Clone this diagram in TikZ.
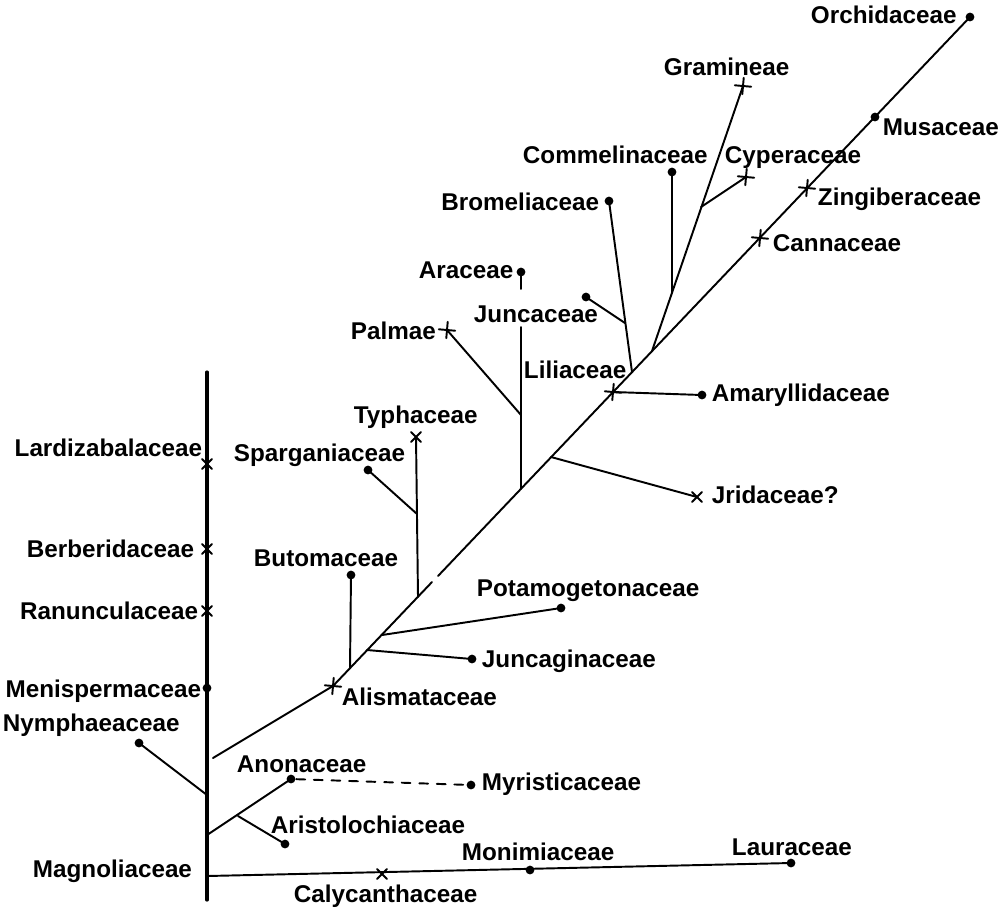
\documentclass[tikz,border=0pt]{standalone}
\usepackage{fontspec}
\setmainfont{Liberation Sans}
\usetikzlibrary{shapes.misc}
\begin{document}
\begin{tikzpicture}[x=0.02cm,y=-0.02cm, line width=1.1pt, line cap=round,
  lab/.style={font=\fontsize{13.8}{16}\selectfont\bfseries, inner sep=0pt},
  dotm/.style={circle,fill,inner sep=0pt,minimum size=5pt},
  xm/.style={cross out,draw,inner sep=0pt,minimum size=4.5pt,line width=1.1pt},
  pm/.style={cross out,draw,inner sep=0pt,minimum size=5.5pt,line width=1.1pt,rotate=40},
  axisl/.style={line width=1.8pt},
  dashl/.style={dash pattern=on 5pt off 5pt}]
\fill[white] (0,0) rectangle (1000,914);
\path[use as bounding box] (0,0) rectangle (1000,914);

% ---------- vertical axis ----------
\coordinate (axT) at (207,372);
\coordinate (axB) at (207,900);
\draw[axisl] (axT) -- (axB);
\node[xm] (lardM) at (207,464) {};
\node[xm] (berbM) at (207,549) {};
\node[xm] (ranuM) at (207,611) {};
\node[dotm] (meniM) at (207,688) {};
\node[lab,anchor=base east] (lardL) at (203,456) {Lardizabalaceae};
\node[lab,anchor=base east] (berbL) at (195,557) {Berberidaceae};
\node[lab,anchor=base east] (ranuL) at (199,619) {Ranunculaceae};
\node[lab,anchor=base east] (meniL) at (202,697) {Menispermaceae};

% Nymphaeaceae
\coordinate (nympJ) at (207,795);
\node[dotm] (nympM) at (139,743) {};
\draw (nympJ) -- (nympM.center);
\node[lab,anchor=base west] (nympL) at (2,731) {Nymphaeaceae};

% Anonaceae / Aristolochiaceae / Myristicaceae
\coordinate (anonJ) at (207,835);
\node[dotm] (anonM) at (291,779) {};
\coordinate (aristJ) at (238,816);
\node[dotm] (aristM) at (285,844) {};
\node[dotm] (myriM) at (471,785) {};
\draw (anonJ) -- (anonM.center);
\draw (aristJ) -- (aristM.center);
\draw[dashl] (anonM) -- (myriM);
\node[lab,anchor=base west] (anonL) at (236,772) {Anonaceae};
\node[lab,anchor=base west] (aristL) at (270,833) {Aristolochiaceae};
\node[lab,anchor=base west] (myriL) at (481,790) {Myristicaceae};

% bottom branch
\coordinate (magJ) at (207,876);
\node[xm] (calyM) at (382,874) {};
\node[dotm] (moniM) at (530,870) {};
\node[dotm] (lauM) at (791,863) {};
\draw (magJ) -- (lauM.center);
\node[lab,anchor=base west] (magL) at (32,877) {Magnoliaceae};
\node[lab,anchor=base west] (calyL) at (293,902) {Calycanthaceae};
\node[lab,anchor=base west] (moniL) at (461,860) {Monimiaceae};
\node[lab,anchor=base west] (lauL) at (731,855) {Lauraceae};

% ---------- monocot line ----------
\coordinate (dStart) at (213,758);
\node[pm] (alisM) at (333,686) {};
\coordinate (gapA) at (432,582);
\coordinate (gapB) at (438,576);
\node[dotm] (orchM) at (970,17) {};
\draw (dStart) -- (alisM.center) -- (gapA);
\draw (gapB) -- (orchM.center);
\node[lab,anchor=base west] (alisL) at (341,705) {Alismataceae};

% Butomaceae
\coordinate (butJ) at (350,668);
\node[dotm] (butM) at (351,575) {};
\draw (butJ) -- (butM.center);
\node[lab,anchor=base west] (butL) at (253,566) {Butomaceae};

% Juncaginaceae
\coordinate (juncgJ) at (367,650);
\node[dotm] (juncgM) at (472,659) {};
\draw (juncgJ) -- (juncgM.center);
\node[lab,anchor=base west] (juncgL) at (481,667) {Juncaginaceae};

% Potamogetonaceae
\coordinate (potJ) at (382,635);
\node[dotm] (potM) at (561,608) {};
\draw (potJ) -- (potM.center);
\node[lab,anchor=base west] (potL) at (476,596) {Potamogetonaceae};

% Typhaceae / Sparganiaceae
\coordinate (typJ) at (418,597);
\node[xm] (typM) at (416,437) {};
\coordinate (sparJ) at (417,514);
\node[dotm] (sparM) at (368,470) {};
\draw (typJ) -- (typM.center);
\draw (sparJ) -- (sparM.center);
\node[lab,anchor=base west] (typL) at (353,423) {Typhaceae};
\node[lab,anchor=base west] (sparL) at (233,461) {Sparganiaceae};

% Araceae / Palmae
\coordinate (arJ) at (521,489);
\node[dotm] (arM) at (521,272) {};
\coordinate (arG1) at (521,289);
\coordinate (arG2) at (521,327);
\coordinate (palJ) at (521,415);
\node[pm] (palM) at (447,330) {};
\draw (arJ) -- (arG2);
\draw (arG1) -- (arM.center);
\draw (palJ) -- (palM.center);
\node[lab,anchor=base west] (arL) at (418,278) {Araceae};
\node[lab,anchor=base west] (palL) at (350,339) {Palmae};
\node[lab,anchor=base west] (juncL) at (473,322) {Juncaceae};

% Jridaceae?
\coordinate (jriJ) at (551,457);
\node[xm] (jriM) at (697,497) {};
\draw (jriJ) -- (jriM.center);
\node[lab,anchor=base west] (jriL) at (711,503) {Jridaceae?};

% Liliaceae / Amaryllidaceae
\node[pm] (liliM) at (613,392) {};
\node[dotm] (amaM) at (702,395) {};
\draw (liliM.center) -- (amaM.center);
\node[lab,anchor=base west] (liliL) at (523,378) {Liliaceae};
\node[lab,anchor=base west] (amaL) at (711,401) {Amaryllidaceae};

% Bromeliaceae / Juncaceae
\coordinate (bromJ) at (632,372);
\node[dotm] (bromM) at (609,201) {};
\coordinate (juncJ) at (625,323);
\node[dotm] (juncM) at (586,297) {};
\draw (bromJ) -- (bromM.center);
\draw (juncJ) -- (juncM.center);
\node[lab,anchor=base east] (bromL) at (600,210) {Bromeliaceae};

% Gramineae / Commelinaceae / Cyperaceae
\coordinate (gramJ) at (652,351);
\node[pm] (gramM) at (743,86) {};
\coordinate (commJ) at (672,293);
\node[dotm] (commM) at (672,172) {};
\coordinate (cypJ) at (701,207);
\node[pm] (cypM) at (746,177) {};
\draw (gramJ) -- (gramM.center);
\draw (commJ) -- (commM.center);
\draw (cypJ) -- (cypM.center);
\node[lab,anchor=base west] (gramL) at (663,75) {Gramineae};
\node[lab,anchor=base west] (commL) at (522,163) {Commelinaceae};
\node[lab,anchor=base west] (cypL) at (724,163) {Cyperaceae};

% upper main line markers
\node[pm] (cannM) at (760,238) {};
\node[pm] (zingM) at (807,188) {};
\node[dotm] (musM) at (875,117) {};
\node[lab,anchor=base west] (cannL) at (772,251) {Cannaceae};
\node[lab,anchor=base west] (zingL) at (817,205) {Zingiberaceae};
\node[lab,anchor=base west] (musL) at (882,135) {Musaceae};
\node[lab,anchor=base west] (orchL) at (810,23) {Orchidaceae};
\end{tikzpicture}
\end{document}
